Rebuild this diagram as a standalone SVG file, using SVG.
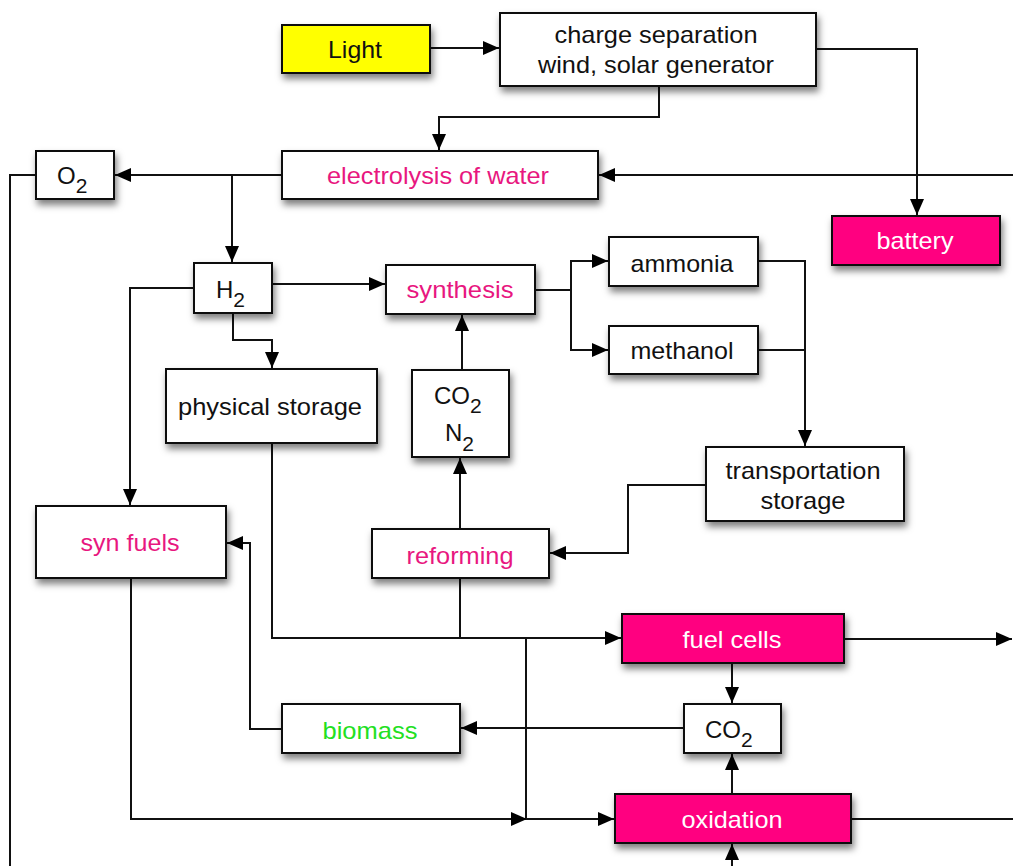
<svg xmlns="http://www.w3.org/2000/svg" width="1013" height="866" viewBox="0 0 1013 866">
<defs>
<filter id="sh" x="-20%" y="-30%" width="140%" height="180%">
<feDropShadow dx="2" dy="5" stdDeviation="3.5" flood-color="#000" flood-opacity="0.5"/>
</filter>
<marker id="ah" markerUnits="userSpaceOnUse" markerWidth="17" markerHeight="15" refX="16" refY="7" orient="auto">
<path d="M0,0 L16,7 L0,14 z" fill="#000"/>
</marker>
<style>
.box{fill:#fff;stroke:#111;stroke-width:2;filter:url(#sh)}
.pinkbox{fill:#ff0080;stroke:#111;stroke-width:2;filter:url(#sh)}
.yellow{fill:#ffff00;stroke:#111;stroke-width:2;filter:url(#sh)}
text{font-family:"Liberation Sans",Arial,Helvetica,sans-serif;font-size:24px;fill:#111}
.c{text-anchor:middle}
.pt{fill:#e8177f}
.wt{fill:#fff}
.gt{fill:#22e022}
.sub{font-size:21px}
#connectors path{fill:none;stroke:#111;stroke-width:2}
.arr{marker-end:url(#ah)}
</style>
</defs>
<rect width="1013" height="866" fill="#fff"/>

<g id="connectors">
<path class="arr" d="M430,48 H499"/>
<path class="arr" d="M816,49 H917 V215"/>
<path class="arr" d="M659,86 V117 H439 V150"/>
<path class="arr" d="M1013,175 H599"/>
<path class="arr" d="M282,175 H115"/>
<path class="arr" d="M232,175 V262"/>
<path d="M36,175 H10 V866"/>
<path class="arr" d="M273,284 H385"/>
<path class="arr" d="M194,288 H130 V505"/>
<path class="arr" d="M233,313 V340 H272 V368"/>
<path class="arr" d="M462,370 V315"/>
<path class="arr" d="M460,529 V458"/>
<path class="arr" d="M535,290 H571 V261 H608"/>
<path class="arr" d="M571,290 V350 H608"/>
<path class="arr" d="M758,261 H805 V446"/>
<path d="M758,350 H805"/>
<path class="arr" d="M706,485 H628 V553 H550"/>
<path class="arr" d="M272,443 V638 H621"/>
<path d="M460,578 V638"/>
<path d="M526,638 V819"/>
<path class="arr" d="M131,578 V819 H527"/>
<path class="arr" d="M526,819 H614"/>
<path class="arr" d="M844,639 H1012"/>
<path class="arr" d="M732,663 V703"/>
<path class="arr" d="M732,794 V754"/>
<path class="arr" d="M684,728 H461"/>
<path class="arr" d="M282,729 H250 V543 H227"/>
<path d="M851,819 H1013"/>
<path class="arr" d="M732,866 V844"/>
</g>

<g id="light">
<rect class="yellow" x="282" y="25" width="148" height="48"/>
<text class="c" x="355" y="58" textLength="54" lengthAdjust="spacingAndGlyphs">Light</text>
</g>
<g id="charge">
<rect class="box" x="500" y="13" width="316" height="73"/>
<text class="c" x="656" y="43" textLength="203" lengthAdjust="spacingAndGlyphs">charge separation</text>
<text class="c" x="656" y="73" textLength="236" lengthAdjust="spacingAndGlyphs">wind, solar generator</text>
</g>
<g id="electrolysis">
<rect class="box" x="282" y="151" width="316" height="48"/>
<text class="c pt" x="438" y="184" textLength="222" lengthAdjust="spacingAndGlyphs">electrolysis of water</text>
</g>
<g id="o2">
<rect class="box" x="36" y="151" width="78" height="48"/>
<text x="57" y="184">O<tspan class="sub" dy="9">2</tspan></text>
</g>
<g id="battery">
<rect class="pinkbox" x="832" y="216" width="168" height="49"/>
<text class="c wt" x="915" y="249" textLength="77" lengthAdjust="spacingAndGlyphs">battery</text>
</g>
<g id="h2">
<rect class="box" x="194" y="263" width="78" height="50"/>
<text x="216" y="298">H<tspan class="sub" dy="9">2</tspan></text>
</g>
<g id="synthesis">
<rect class="box" x="386" y="265" width="149" height="49"/>
<text class="c pt" x="460" y="298" textLength="107" lengthAdjust="spacingAndGlyphs">synthesis</text>
</g>
<g id="ammonia">
<rect class="box" x="609" y="237" width="149" height="49"/>
<text class="c" x="682" y="272" textLength="103" lengthAdjust="spacingAndGlyphs">ammonia</text>
</g>
<g id="methanol">
<rect class="box" x="609" y="326" width="149" height="48"/>
<text class="c" x="682" y="359" textLength="103" lengthAdjust="spacingAndGlyphs">methanol</text>
</g>
<g id="physical-storage">
<rect class="box" x="166" y="369" width="211" height="74"/>
<text class="c" x="270" y="415" textLength="184" lengthAdjust="spacingAndGlyphs">physical storage</text>
</g>
<g id="co2-n2">
<rect class="box" x="412" y="370" width="97" height="87"/>
<text x="434" y="404">CO<tspan class="sub" dy="9">2</tspan></text>
<text x="445" y="441">N<tspan class="sub" dy="10">2</tspan></text>
</g>
<g id="transportation">
<rect class="box" x="706" y="447" width="198" height="74"/>
<text class="c" x="803" y="479" textLength="155" lengthAdjust="spacingAndGlyphs">transportation</text>
<text class="c" x="803" y="509" textLength="85" lengthAdjust="spacingAndGlyphs">storage</text>
</g>
<g id="syn-fuels">
<rect class="box" x="36" y="506" width="190" height="72"/>
<text class="c pt" x="130" y="551" textLength="99" lengthAdjust="spacingAndGlyphs">syn fuels</text>
</g>
<g id="reforming">
<rect class="box" x="372" y="529" width="177" height="49"/>
<text class="c pt" x="460" y="564" textLength="107" lengthAdjust="spacingAndGlyphs">reforming</text>
</g>
<g id="fuel-cells">
<rect class="pinkbox" x="622" y="614" width="222" height="49"/>
<text class="c wt" x="732" y="648" textLength="99" lengthAdjust="spacingAndGlyphs">fuel cells</text>
</g>
<g id="co2">
<rect class="box" x="684" y="704" width="97" height="49"/>
<text x="705" y="738">CO<tspan class="sub" dy="9">2</tspan></text>
</g>
<g id="biomass">
<rect class="box" x="282" y="704" width="178" height="49"/>
<text class="c gt" x="370" y="739" textLength="95" lengthAdjust="spacingAndGlyphs">biomass</text>
</g>
<g id="oxidation">
<rect class="pinkbox" x="615" y="794" width="236" height="49"/>
<text class="c wt" x="732" y="828" textLength="101" lengthAdjust="spacingAndGlyphs">oxidation</text>
</g>
</svg>
